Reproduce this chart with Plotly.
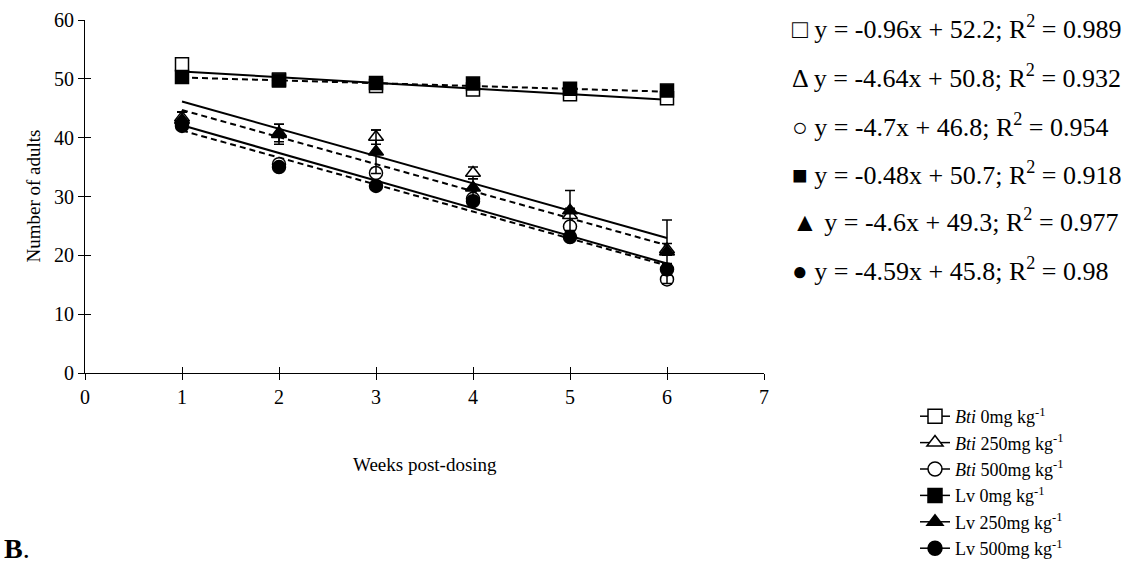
import plotly.graph_objects as go

# Weeks after dosing
weeks = [1, 2, 3, 4, 5, 6]

# Mean number of adults per treatment and standard errors
bti0 = [52.5, 49.9, 48.8, 48.2, 47.4, 46.7]
bti0_err = [1.0, 0.4, 0.4, 0.4, 0.4, 0.4]
bti250 = [43.4, 40.8, 40.1, 34.0, 26.8, 21.0]
bti250_err = [1.0, 1.5, 1.2, 1.0, 1.2, 1.0]
bti500 = [42.3, 35.5, 34.0, 29.6, 24.9, 15.9]
bti500_err = [0.8, 0.5, 0.8, 0.6, 0.8, 0.8]
lv0 = [50.3, 49.7, 49.3, 49.2, 48.3, 48.0]
lv0_err = [0.5, 0.4, 0.4, 0.4, 0.4, 0.4]
lv250 = [43.0, 40.6, 37.6, 31.5, 27.6, 20.6]
lv250_err = [1.3, 1.7, 3.7, 1.5, 3.4, 5.4]
lv500 = [42.0, 35.0, 31.8, 29.2, 23.1, 17.6]
lv500_err = [0.5, 0.6, 0.6, 0.6, 0.5, 1.0]

# Linear trend lines (slope, intercept, R squared)
names = ["<i>Bti</i> 0mg kg<sup>-1</sup>", "<i>Bti</i> 250mg kg<sup>-1</sup>",
         "<i>Bti</i> 500mg kg<sup>-1</sup>", "Lv 0mg kg<sup>-1</sup>",
         "Lv 250mg kg<sup>-1</sup>", "Lv 500mg kg<sup>-1</sup>"]
slopes = [-0.96, -4.64, -4.7, -0.48, -4.6, -4.59]
intercepts = [52.2, 50.8, 46.8, 50.7, 49.3, 45.8]
r_squared = ["0.989", "0.932", "0.954", "0.918", "0.977", "0.98"]
eq_symbols = ["\u25a1", "\u0394", "\u25cb", "\u25a0", "\u25b2", "\u25cf"]

means = [bti0, bti250, bti500, lv0, lv250, lv500]
errors = [bti0_err, bti250_err, bti500_err, lv0_err, lv250_err, lv500_err]
symbols = ["square", "triangle-up", "circle", "square", "triangle-up", "circle"]
fills = ["white", "white", "white", "black", "black", "black"]
dashes = ["solid", "solid", "solid", "6px,4px", "6px,4px", "6px,4px"]

FONT = "Liberation Serif"

fig = go.Figure()

# Trend lines across the sampled weeks
for m, b, d in zip(slopes, intercepts, dashes):
    xs = [weeks[0], weeks[-1]]
    fig.add_trace(go.Scatter(
        x=xs, y=[m * x + b for x in xs], mode="lines",
        line=dict(color="black", width=2, dash=d),
        showlegend=False, hoverinfo="skip"))

# Observed means with error bars
for y, e, s, f in zip(means, errors, symbols, fills):
    fig.add_trace(go.Scatter(
        x=weeks, y=y, mode="markers",
        marker=dict(symbol=s, size=13, color=f, line=dict(color="black", width=1.5)),
        error_y=dict(type="data", array=e, color="black", thickness=1.5, width=5),
        showlegend=False))

# Legend entries: marker on a short line
for n, s, f in zip(names, symbols, fills):
    fig.add_trace(go.Scatter(
        x=[None], y=[None], mode="lines+markers", name=n,
        marker=dict(symbol=s, size=14, color=f, line=dict(color="black", width=1.5)),
        line=dict(color="black", width=1.5)))

# Invisible trace to anchor the cross-tick overlay axes
fig.add_trace(go.Scatter(x=[None], y=[None], xaxis="x2", yaxis="y2",
                         showlegend=False, hoverinfo="skip"))

L, T, W, H = 85, 20, 679, 353

def px_to_paper_y(py):
    return (T + H - py) / H

def px_to_paper_x(px):
    return (px - L) / W

# Regression equations on the right
eq_rows = [27, 76, 125, 173, 221, 269]
for sym, m, b, r2, py in zip(eq_symbols, slopes, intercepts, r_squared, eq_rows):
    fig.add_annotation(
        x=px_to_paper_x(790), y=px_to_paper_y(py), xref="paper", yref="paper",
        xanchor="left", yanchor="middle", showarrow=False,
        text=f"{sym} y = {m:g}x + {b:g}; R<sup>2</sup> = {r2}",
        font=dict(family=FONT, size=26, color="black"))

# Axis titles and panel label
fig.add_annotation(x=0.5, y=px_to_paper_y(477), xref="paper", yref="paper",
                   showarrow=False, text="Weeks post-dosing",
                   font=dict(family=FONT, size=19, color="black"))
fig.add_annotation(x=px_to_paper_x(20), y=px_to_paper_y(196), xref="paper", yref="paper",
                   showarrow=False, text="Number of adults", textangle=-90,
                   font=dict(family=FONT, size=19, color="black"))
fig.add_annotation(x=px_to_paper_x(2), y=px_to_paper_y(566), xref="paper", yref="paper",
                   xanchor="left", showarrow=False, text="<b>B</b>.",
                   font=dict(family=FONT, size=28, color="black"))

axis_common = dict(showgrid=False, zeroline=False, color="black")
fig.update_layout(
    width=1144, height=572,
    margin=dict(l=L, r=1144 - L - W, t=T, b=572 - T - H, autoexpand=False),
    paper_bgcolor="white", plot_bgcolor="white",
    font=dict(family=FONT, size=20, color="black"),
    xaxis=dict(range=[0, 7], dtick=1, tick0=0, showline=True, linecolor="black",
               linewidth=1, ticks="outside", ticklen=6, tickcolor="black",
               tickfont=dict(family=FONT, size=20), **axis_common),
    yaxis=dict(range=[0, 60], dtick=10, tick0=0, showline=True, linecolor="black",
               linewidth=1, ticks="outside", ticklen=6, tickcolor="black",
               tickfont=dict(family=FONT, size=20), **axis_common),
    xaxis2=dict(range=[0, 7], dtick=1, tick0=0, overlaying="x", anchor="y",
                ticks="inside", ticklen=6, tickcolor="black", showticklabels=False,
                showline=False, **axis_common),
    yaxis2=dict(range=[0, 60], dtick=10, tick0=0, overlaying="y", anchor="x",
                ticks="inside", ticklen=6, tickcolor="black", showticklabels=False,
                showline=False, **axis_common),
    legend=dict(x=px_to_paper_x(915), y=px_to_paper_y(398), xanchor="left", yanchor="top",
                font=dict(family=FONT, size=18, color="black"),
                bgcolor="rgba(0,0,0,0)", tracegroupgap=0, itemwidth=30),
    showlegend=True,
)

fig.write_html("out.html")
